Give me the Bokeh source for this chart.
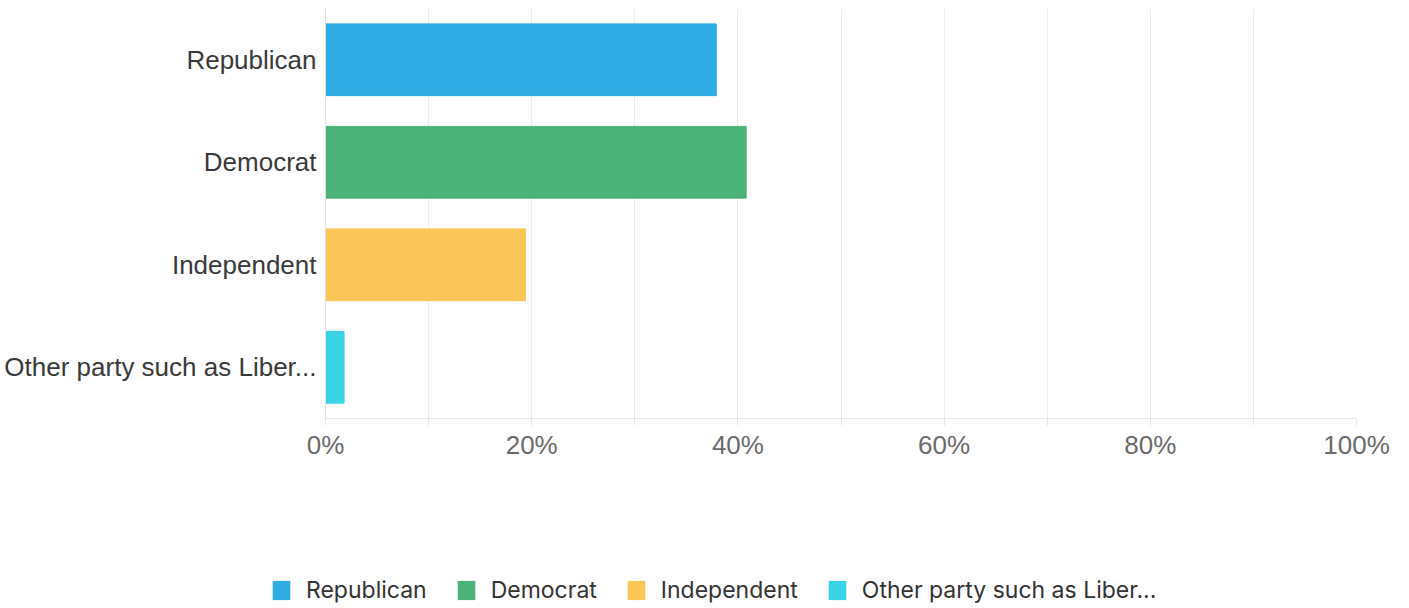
from bokeh.plotting import figure
from bokeh.layouts import column
from bokeh.models import Range1d, FactorRange, FixedTicker, ColumnDataSource, Legend, LegendItem
from bokeh.embed import file_html
from bokeh.resources import INLINE

categories = ["Republican", "Democrat", "Independent", "Other party such as Liber..."]
values = [37.9, 40.8, 19.4, 1.8]
colors = ["#30ACE4", "#4BB27A", "#FBC658", "#38D3E4"]
tick_values = [0, 10, 20, 30, 40, 50, 60, 70, 80, 90, 100]
tick_labels = ["0%", "", "20%", "", "40%", "", "60%", "", "80%", "", "100%"]

source = ColumnDataSource(dict(cat=categories, val=values, color=colors))

p = figure(width=1409, height=560, output_backend="svg", toolbar_location=None,
           y_range=FactorRange(factors=list(reversed(categories)), range_padding=0),
           x_range=Range1d(0, 100),
           min_border_left=325, min_border_right=53, min_border_top=8, min_border_bottom=142)
p.outline_line_color = None

r = p.hbar(y="cat", right="val", height=0.7, color="color", source=source)

xa = p.xaxis[0]
xa.ticker = FixedTicker(ticks=tick_values)
xa.major_label_overrides = {v: l for v, l in zip(tick_values, tick_labels)}
xa.axis_line_color = "#e6e6e6"
xa.major_tick_line_color = "#e6e6e6"
xa.major_tick_out = 7
xa.major_tick_in = 0
xa.minor_tick_line_color = None
xa.major_label_standoff = 4
xa.major_label_text_font = "Liberation Sans"
xa.major_label_text_font_size = "26px"
xa.major_label_text_color = "#6b6b6b"

ya = p.yaxis[0]
ya.axis_line_color = "#e0e0e0"
ya.major_tick_line_color = None
ya.minor_tick_line_color = None
ya.major_label_standoff = 3
ya.major_label_text_font = "Liberation Sans"
ya.major_label_text_font_size = "26px"
ya.major_label_text_color = "#3a3a3a"

p.xgrid.ticker = FixedTicker(ticks=tick_values)
p.xgrid.grid_line_color = "#ececec"
p.ygrid.grid_line_color = None

# legend strip (separate figure so the legend can sit centred under the whole chart)
lg = figure(width=1409, height=48, output_backend="svg", toolbar_location=None,
            x_range=Range1d(0, 100), y_range=FactorRange(factors=categories),
            x_axis_location=None, y_axis_location=None,
            min_border_left=0, min_border_right=0, min_border_top=0, min_border_bottom=0)
lg.outline_line_color = None
lg.xgrid.visible = False
lg.ygrid.visible = False
if hasattr(lg, "frame_align"):
    lg.frame_align = False
    p.frame_align = False
lr = lg.hbar(y="cat", right="val", height=0, fill_color="color", line_color=None, source=source)
items = [LegendItem(label=c, renderers=[lr], index=i) for i, c in enumerate(categories)]
legend = Legend(items=items, orientation="horizontal", location=(270, 4),
                glyph_width=22, glyph_height=24, label_standoff=14, spacing=28,
                padding=0, margin=0, border_line_color=None, background_fill_alpha=0,
                label_text_font="Inter", label_text_font_size="23px",
                label_text_color="#333333")
lg.add_layout(legend, "center")

layout = column(p, lg, spacing=0)
open("out.html", "w").write(file_html(layout, INLINE))
